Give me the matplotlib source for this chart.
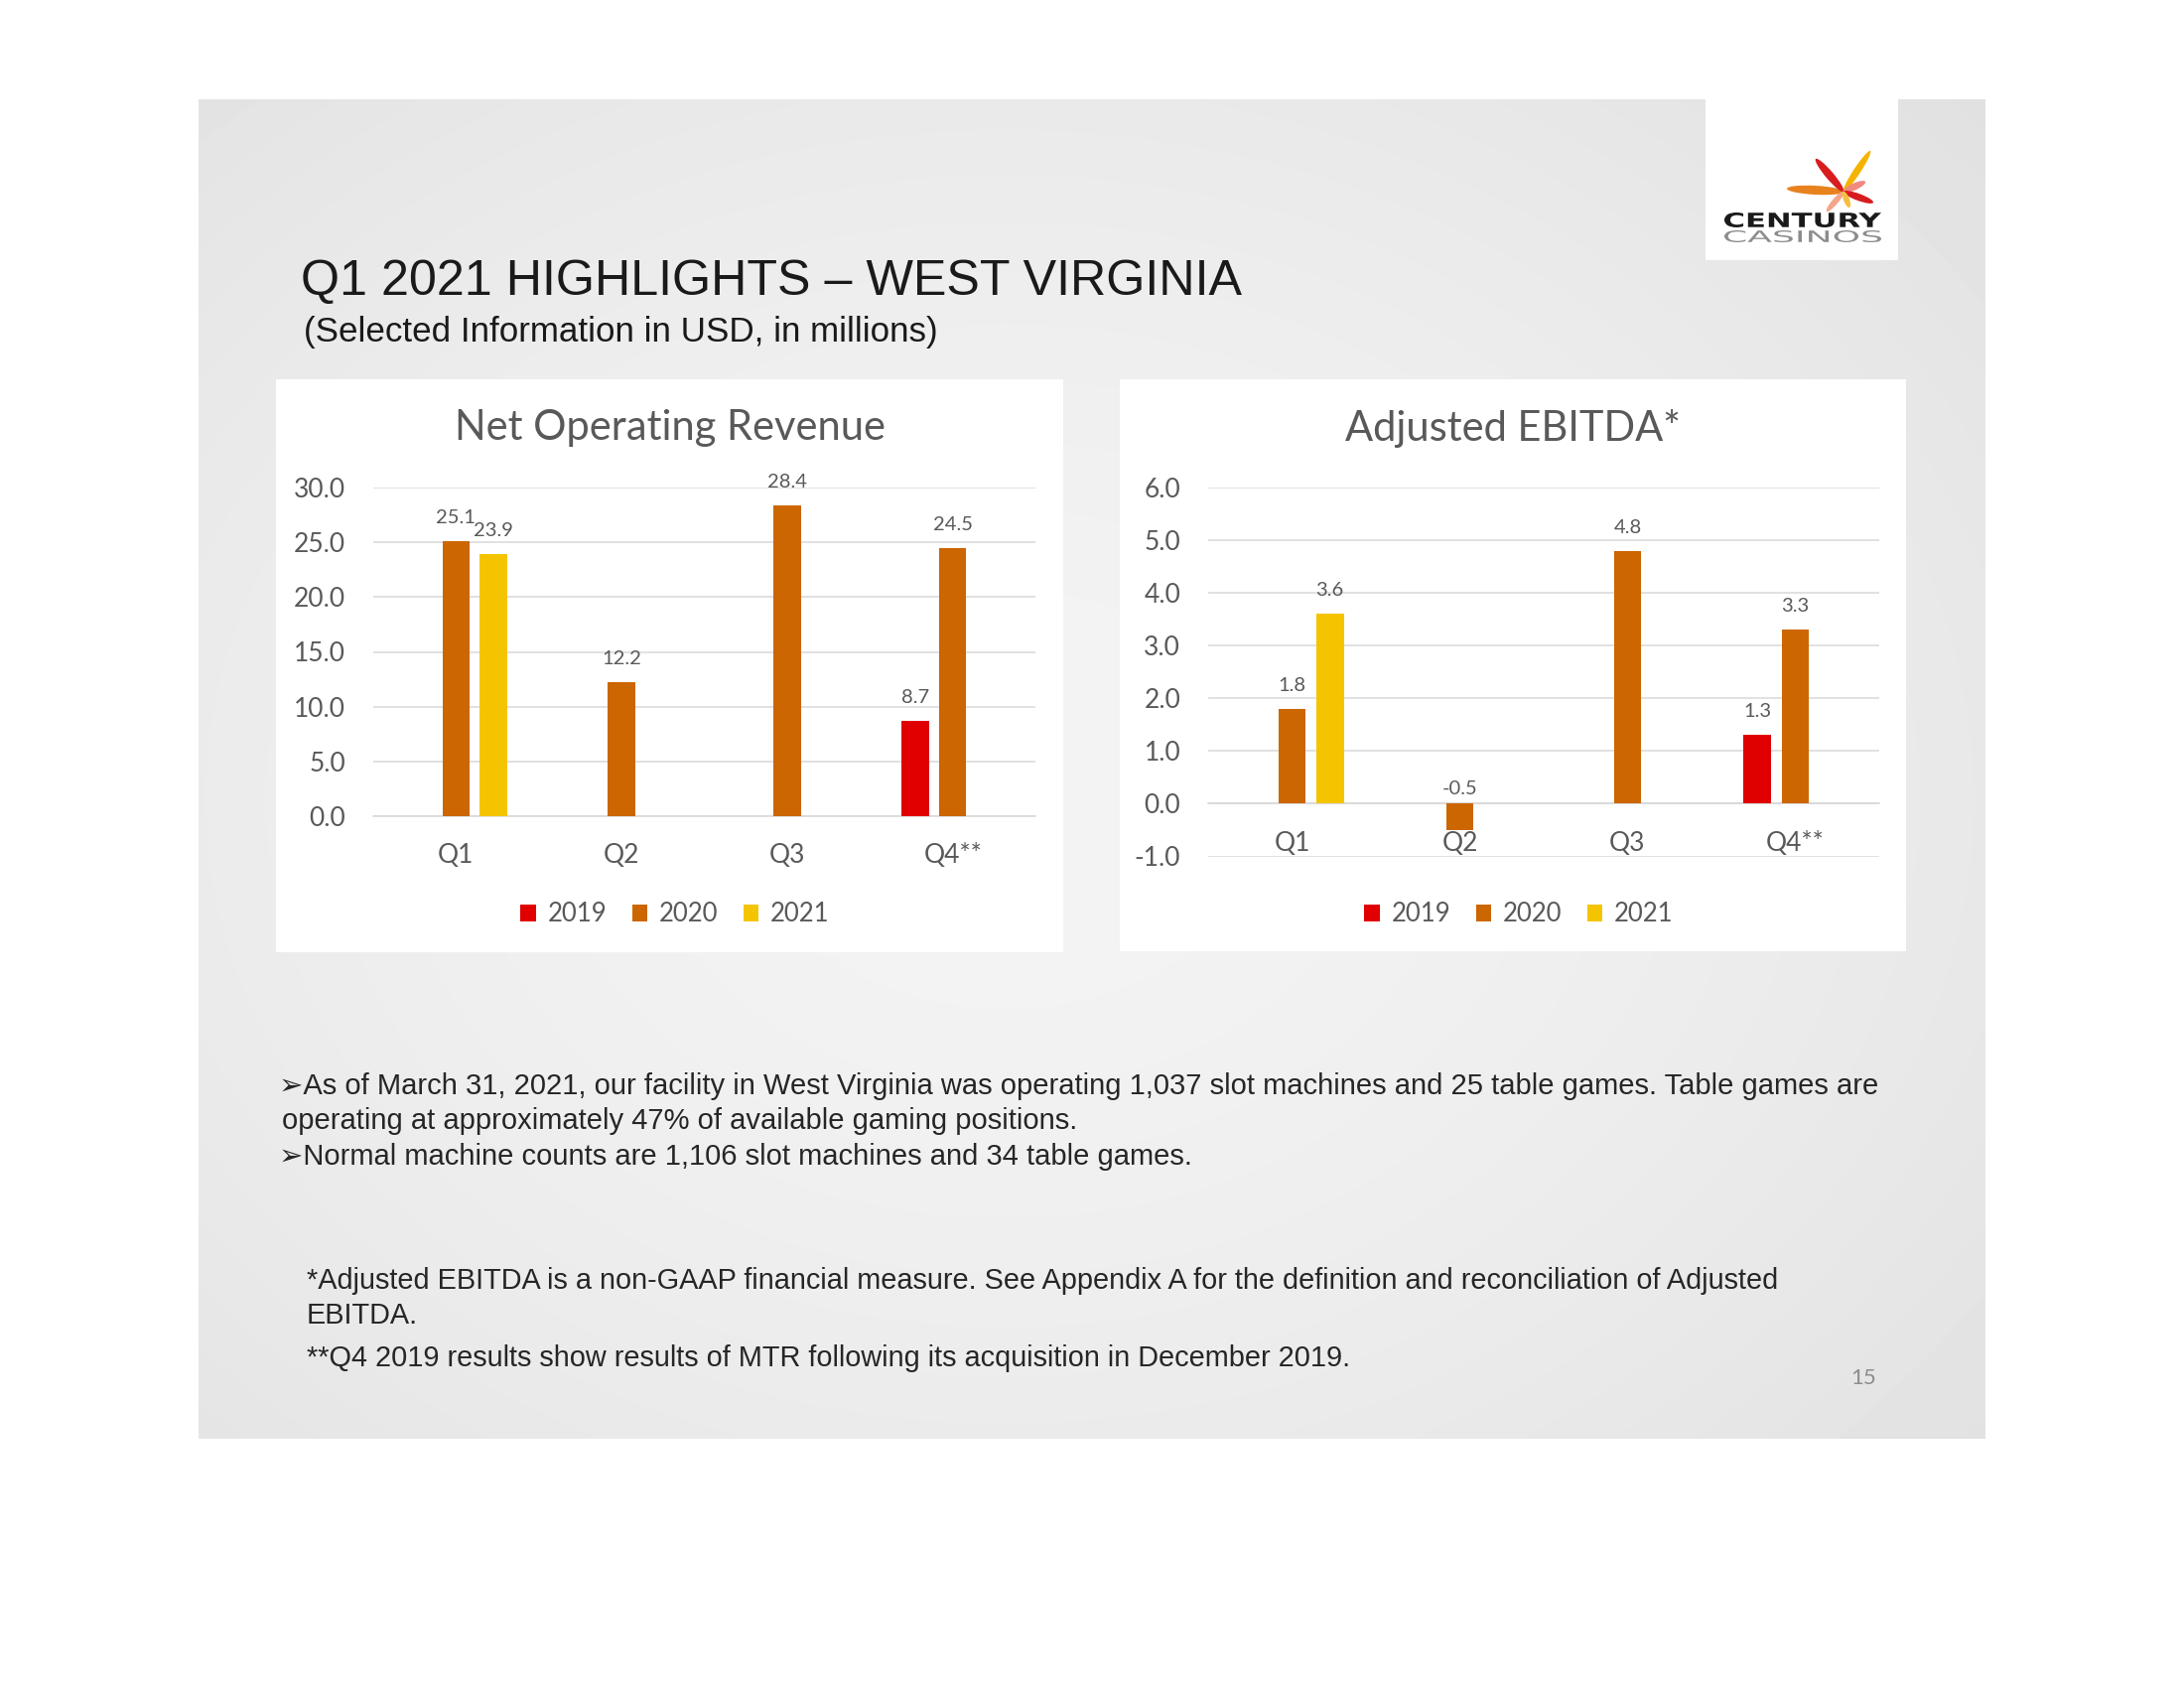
import numpy as np
import matplotlib
matplotlib.use("Agg")
import matplotlib.pyplot as plt
from matplotlib.patches import Rectangle, Ellipse, Patch, PathPatch
from matplotlib.textpath import TextPath
from matplotlib.font_manager import FontProperties
from matplotlib.transforms import Affine2D

# ---- data ----
categories = ["Q1", "Q2", "Q3", "Q4**"]
years = ["2019", "2020", "2021"]

revenue_2019 = [np.nan, np.nan, np.nan, 8.7]
revenue_2020 = [25.1, 12.2, 28.4, 24.5]
revenue_2021 = [23.9, np.nan, np.nan, np.nan]

ebitda_2019 = [np.nan, np.nan, np.nan, 1.3]
ebitda_2020 = [1.8, -0.5, 4.8, 3.3]
ebitda_2021 = [3.6, np.nan, np.nan, np.nan]

year_colors = ["#e00000", "#cc6600", "#f5c400"]
GRAY_TXT = "#595959"
GRID = "#d9d9d9"
CHART_FONT = ["Lato", "DejaVu Sans"]
SLIDE_FONT = ["Liberation Sans", "DejaVu Sans"]

W, H = 2200, 1700
fig = plt.figure(figsize=(22, 17), dpi=100)
fig.patch.set_facecolor("white")

# full-figure canvas in pixel coordinates (y downwards)
canvas = fig.add_axes([0, 0, 1, 1])
canvas.set_xlim(0, W)
canvas.set_ylim(H, 0)
canvas.axis("off")

# slide background with soft radial gradient
sx0, sy0, sx1, sy1 = 200, 100, 2000, 1449
yy, xx = np.mgrid[0:200, 0:260]
cx, cy = 260 * 0.45, 200 * 0.52
r = np.sqrt(((xx - cx) / 150.0) ** 2 + ((yy - cy) / 120.0) ** 2)
shade = 0.955 - 0.095 * np.clip(r, 0, 1.5) ** 1.6 / 1.5 ** 1.6
canvas.imshow(shade, cmap="gray", vmin=0, vmax=1, extent=(sx0, sx1, sy1, sy0),
              aspect="auto", interpolation="bicubic", zorder=0)

# white chart panels
for (px0, py0, px1, py1) in [(278, 382, 1071, 959), (1128, 382, 1920, 958)]:
    canvas.add_patch(Rectangle((px0, py0), px1 - px0, py1 - py0,
                               facecolor="white", edgecolor="none", zorder=1))

# logo box
canvas.add_patch(Rectangle((1718, 100), 194, 162, facecolor="white",
                           edgecolor="none", zorder=1))
lc = (1857, 193)
petals = [
    ((1800, 190), "#e8821e", 9),
    ((1829, 160), "#d81c20", 8),
    ((1884, 152), "#f6b400", 7),
    ((1879, 183), "#f08a80", 7),
    ((1887, 204), "#d81c20", 7),
    ((1840, 213), "#f4a58a", 6),
    ((1863, 209), "#f5c040", 6),
]
for tip, col, wd in petals:
    dx, dy = tip[0] - lc[0], tip[1] - lc[1]
    length = np.hypot(dx, dy)
    ang = np.degrees(np.arctan2(dy, dx))
    canvas.add_patch(Ellipse((lc[0] + dx / 2, lc[1] + dy / 2), length, wd,
                             angle=ang, facecolor=col, edgecolor="none", zorder=2))


def fitted_text(s, x0, x1, y_top, y_bot, color, weight="normal"):
    tp = TextPath((0, 0), s, size=1,
                  prop=FontProperties(family="DejaVu Sans", weight=weight))
    bb = tp.get_extents()
    sx = (x1 - x0) / bb.width
    sy = (y_bot - y_top) / bb.height
    tr = Affine2D().translate(-bb.x0, -bb.y0).scale(sx, -sy).translate(x0, y_bot)
    canvas.add_patch(PathPatch(tr.transform_path(tp), facecolor=color,
                               edgecolor="none", zorder=3))


fitted_text("CENTURY", 1737, 1895, 214, 229, "#1a1a1a", weight="bold")
fitted_text("CASINOS", 1737, 1895, 232, 244, "#8c8c8c")

# slide titles
canvas.text(303, 297, "Q1 2021 HIGHLIGHTS \u2013 WEST VIRGINIA", family=SLIDE_FONT,
            fontsize=36.2, color="#1a1a1a", ha="left", va="baseline")
canvas.text(306, 344, "(Selected Information in USD, in millions)", family=SLIDE_FONT,
            fontsize=25.2, color="#1a1a1a", ha="left", va="baseline")

# bullet text
body = [
    (281, 1094, "\u27a2As of March 31, 2021, our facility in West Virginia was operating 1,037 slot machines and 25 table games. Table games are"),
    (284, 1129, "operating at approximately 47% of available gaming positions."),
    (281, 1165, "\u27a2Normal machine counts are 1,106 slot machines and 34 table games."),
]
for x, y, s in body:
    canvas.text(x, y, s, family=SLIDE_FONT, fontsize=21.0, color="#262626",
                ha="left", va="center")

notes = [
    (309, 1290, "*Adjusted EBITDA is a non-GAAP financial measure. See Appendix A for the definition and reconciliation of Adjusted"),
    (309, 1325, "EBITDA."),
    (309, 1368, "**Q4 2019 results show results of MTR following its acquisition in December 2019."),
]
for x, y, s in notes:
    canvas.text(x, y, s, family=SLIDE_FONT, fontsize=20.75, color="#262626",
                ha="left", va="center")
canvas.text(1877, 1388, "15", family=CHART_FONT, fontsize=16, color="#8c8c8c",
            ha="center", va="center")


def px_rect(x0, y_top, x1, y_bot):
    return [x0 / W, 1 - y_bot / H, (x1 - x0) / W, (y_bot - y_top) / H]


def bar_chart(rect, series, ylim, yticks, title, title_xy, legend_xy, neg_offset=11):
    ax = fig.add_axes(rect)
    ax.set_facecolor("none")
    for s in ["top", "right", "left"]:
        ax.spines[s].set_visible(False)
    ax.spines["bottom"].set_position(("data", 0))
    ax.spines["bottom"].set_color(GRID)
    ax.spines["bottom"].set_linewidth(1.1)
    ax.spines["bottom"].set_zorder(1)

    x = np.arange(len(categories))
    width, offset = 0.165, 0.226
    for i, (vals, col) in enumerate(zip(series, year_colors)):
        vals = np.array(vals, dtype=float)
        pos = x + (i - 1) * offset
        ax.bar(pos, vals, width=width, color=col, zorder=3)
        for p, v in zip(pos, vals):
            if np.isnan(v):
                continue
            if v >= 0:
                ax.annotate(f"{v:.1f}", (p, v), xytext=(0, 17), textcoords="offset points",
                            ha="center", va="center", fontsize=14.5, color=GRAY_TXT,
                            family=CHART_FONT)
            else:
                ax.annotate(f"{v:.1f}", (p, 0), xytext=(0, neg_offset),
                            textcoords="offset points", ha="center", va="center",
                            fontsize=14.5, color=GRAY_TXT, family=CHART_FONT)
    ax.set_xlim(-0.5, len(categories) - 0.5)
    ax.set_ylim(*ylim)
    ax.set_yticks(yticks)
    ax.set_yticklabels([f"{t:.1f}" for t in yticks], family=CHART_FONT,
                       fontsize=19, color=GRAY_TXT)
    ax.set_xticks(x)
    ax.set_xticklabels(categories, family=CHART_FONT, fontsize=19, color=GRAY_TXT)
    ax.tick_params(axis="both", length=0)
    ax.tick_params(axis="y", pad=20)
    ax.tick_params(axis="x", pad=19.5)
    ax.yaxis.grid(True, color=GRID, linewidth=1.1, zorder=0)

    canvas.text(title_xy[0], title_xy[1], title, family=CHART_FONT, fontsize=30,
                color=GRAY_TXT, ha="center", va="center")
    handles = [Patch(facecolor=c, edgecolor="none", label=y)
               for c, y in zip(year_colors, years)]
    ax.legend(handles=handles, loc="center", ncol=3, frameon=False,
              bbox_to_anchor=(legend_xy[0] / W, 1 - legend_xy[1] / H),
              bbox_transform=fig.transFigure, prop={"family": CHART_FONT, "size": 18.5},
              labelcolor=GRAY_TXT, handlelength=0.6, handleheight=0.6,
              handletextpad=0.45, columnspacing=1.0)
    return ax


bar_chart(px_rect(376, 491, 1043, 822),
          [revenue_2019, revenue_2020, revenue_2021],
          (0, 30), [0, 5, 10, 15, 20, 25, 30],
          "Net Operating Revenue", (675, 431), (680, 921))

bar_chart(px_rect(1217, 491, 1893, 862.5),
          [ebitda_2019, ebitda_2020, ebitda_2021],
          (-1, 6), [-1, 0, 1, 2, 3, 4, 5, 6],
          "Adjusted EBITDA*", (1524, 431), (1530, 921))

fig.savefig("out.png", dpi=100)
